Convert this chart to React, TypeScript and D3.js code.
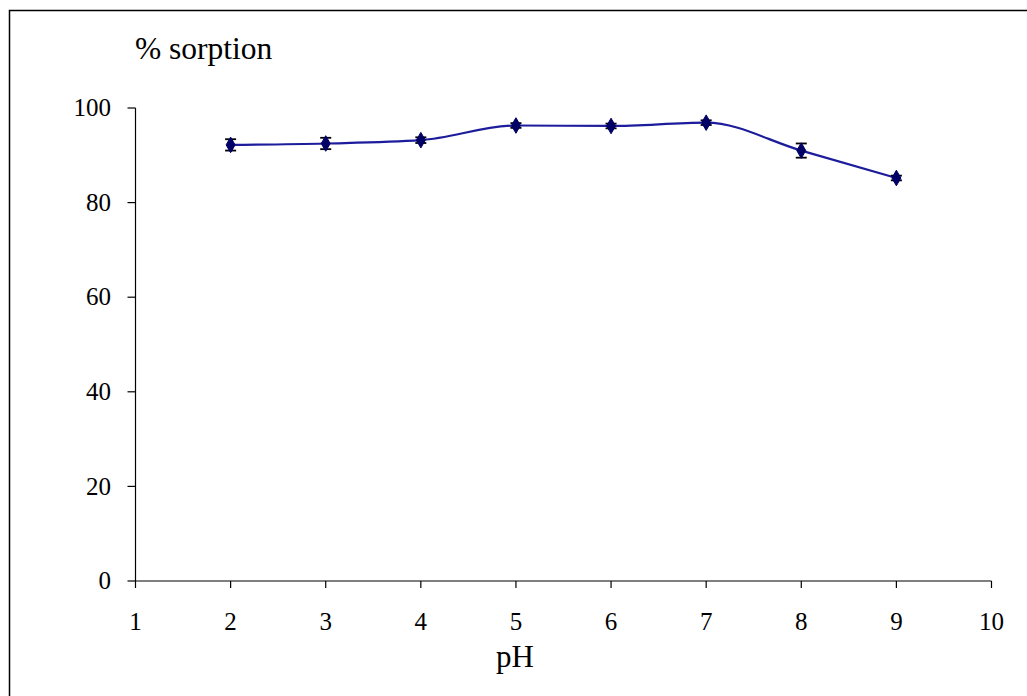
import React from "react";
import * as d3 from "d3";

const phValues = [2, 3, 4, 5, 6, 7, 8, 9];
const sorption = [92.2, 92.5, 93.2, 96.3, 96.2, 96.9, 91.0, 85.2];
const errors = [1.2, 1.2, 0.6, 0.5, 0.5, 0.5, 1.5, 0.5];
const xTicks = [1, 2, 3, 4, 5, 6, 7, 8, 9, 10];
const yTicks = [0, 20, 40, 60, 80, 100];

export default function App() {
  const W = 1027, H = 696;
  const x = d3.scaleLinear().domain([1, 10]).range([135.5, 991.5]);
  const y = d3.scaleLinear().domain([0, 100]).range([581, 108]);
  const line = d3
    .line<number>()
    .x((_, i) => x(phValues[i]))
    .y((d) => y(d))
    .curve(d3.curveMonotoneX);
  const font = "'Liberation Serif', 'Times New Roman', serif";
  const diamond = d3.symbol().type(d3.symbolDiamond).size(70)();
  return (
    <svg width={W} height={H} style={{ position: "absolute", left: 0, top: 0, background: "#fff" }}>
      <rect x={9.5} y={10.5} width={1100} height={800} fill="#fff" stroke="#000" strokeWidth={1.5} />
      {/* axes */}
      <line x1={x(1)} x2={x(1)} y1={y(100)} y2={y(0)} stroke="#000" strokeWidth={1.2} />
      <line x1={x(1)} x2={x(10)} y1={y(0)} y2={y(0)} stroke="#000" strokeWidth={1.2} />
      {yTicks.map((t) => (
        <g key={"y" + t}>
          <line x1={x(1) - 8} x2={x(1)} y1={y(t)} y2={y(t)} stroke="#000" strokeWidth={1.2} />
          <text x={111} y={y(t)} dy="0.33em" textAnchor="end" fontFamily={font} fontSize={25} fill="#000">
            {t}
          </text>
        </g>
      ))}
      {xTicks.map((t) => (
        <g key={"x" + t}>
          <line x1={x(t)} x2={x(t)} y1={y(0)} y2={y(0) + 7} stroke="#000" strokeWidth={1.2} />
          <text x={x(t)} y={630} textAnchor="middle" fontFamily={font} fontSize={25} fill="#000">
            {t}
          </text>
        </g>
      ))}
      <text x={515} y={667} textAnchor="middle" fontFamily={font} fontSize={31} fill="#000">
        pH
      </text>
      <text x={135} y={59} fontFamily={font} fontSize={31.5} fill="#000">
        % sorption
      </text>
      {/* series */}
      <path d={line(sorption) || ""} fill="none" stroke="#1c1c9c" strokeWidth={2.2} />
      {sorption.map((v, i) => (
        <g key={"e" + i}>
          <line x1={x(phValues[i])} x2={x(phValues[i])} y1={y(v - errors[i])} y2={y(v + errors[i])} stroke="#000" strokeWidth={1.5} />
          <line x1={x(phValues[i]) - 5.5} x2={x(phValues[i]) + 5.5} y1={y(v - errors[i])} y2={y(v - errors[i])} stroke="#000" strokeWidth={1.8} />
          <line x1={x(phValues[i]) - 5.5} x2={x(phValues[i]) + 5.5} y1={y(v + errors[i])} y2={y(v + errors[i])} stroke="#000" strokeWidth={1.8} />
          <path d={diamond || ""} transform={`translate(${x(phValues[i])},${y(v)})`} fill="#000066" stroke="#000066" />
        </g>
      ))}
    </svg>
  );
}
